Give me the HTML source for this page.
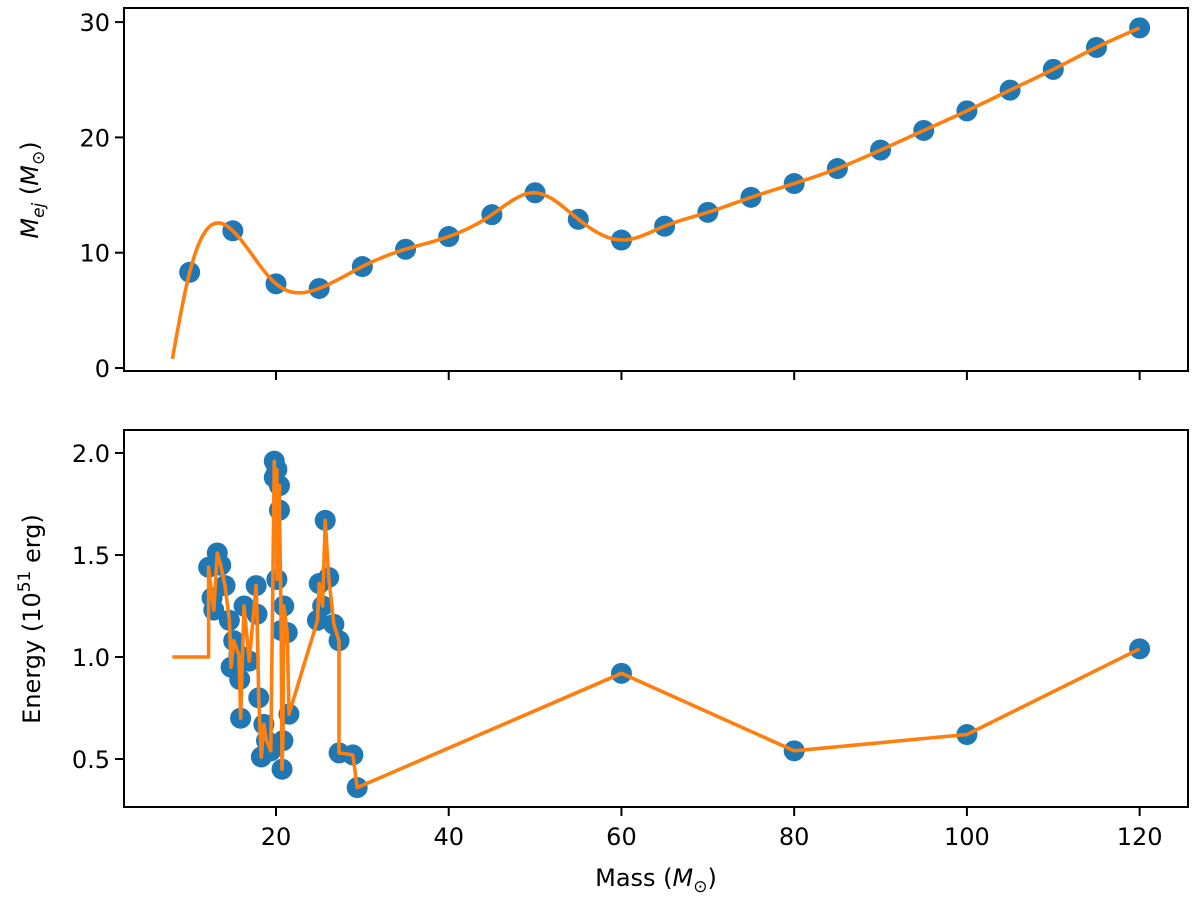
<!DOCTYPE html>
<html><head><meta charset="utf-8"><style>
body{margin:0;background:#fff;}
svg text{font-family:"DejaVu Sans","Liberation Sans",sans-serif;font-size:24px;fill:#000;}
</style></head><body>
<svg id="c" width="1200" height="906"></svg>
<script>
const topMass=[8,10,15,20,25,30,35,40,45,50,55,60,65,70,75,80,85,90,95,100,105,110,115,120];
const topEjecta=[0.8,8.3,11.9,7.3,6.9,8.8,10.3,11.4,13.3,15.2,12.9,11.1,12.3,13.5,14.8,16.0,17.3,18.9,20.6,22.3,24.1,25.9,27.8,29.5];
const botMass=[12.2,12.6,12.8,13.2,13.6,14.1,14.6,14.8,15.1,15.7,15.8,15.9,16.3,16.9,17.7,17.8,18.0,18.3,18.6,18.9,19.4,19.8,19.8,20.1,20.1,20.4,20.4,20.6,20.7,20.8,20.9,21.3,21.5,24.8,25.0,25.4,25.7,26.1,26.7,27.3,27.3,28.9,29.4,60,80,100,120];
const botEnergy=[1.44,1.29,1.23,1.51,1.45,1.35,1.18,0.95,1.08,1.01,0.89,0.70,1.25,0.98,1.35,1.21,0.80,0.51,0.67,0.59,0.54,1.96,1.88,1.92,1.38,1.84,1.72,1.13,0.45,0.59,1.25,1.12,0.72,1.18,1.36,1.25,1.67,1.39,1.16,1.08,0.53,0.52,0.36,0.92,0.54,0.62,1.04];
const xTicks=[20,40,60,80,100,120];
const topTicks=[0,10,20,30];
const botTicks=[0.5,1.0,1.5,2.0];
const NS="http://www.w3.org/2000/svg";
const svg=document.getElementById('c');
function el(t,a,p){const e=document.createElementNS(NS,t);for(const k in a)e.setAttribute(k,a[k]);(p||svg).appendChild(e);return e;}
const X0=124,X1=1188,xmin=2.4,xmax=125.6;
const xs=m=>X0+(m-xmin)/(xmax-xmin)*(X1-X0);
const yTop=v=>368-v*11.53;
const yBot=v=>657-(v-1)*204;
function axes(y0,y1,name){
  const r=el('rect',{x:X0,y:y0,width:X1-X0,height:y1-y0,fill:'none',stroke:'#000','stroke-width':2});
  
  
}
const gT=el('g',{});


axes(8,371,'top-axes-frame');
xTicks.forEach(t=>{const l=el('line',{x1:xs(t),x2:xs(t),y1:371,y2:380,stroke:'#000','stroke-width':2});});
topTicks.forEach(t=>{const l=el('line',{x1:X0-9,x2:X0,y1:yTop(t),y2:yTop(t),stroke:'#000','stroke-width':2});
 const tx=el('text',{x:X0-14,y:yTop(t)+9,'text-anchor':'end'});tx.textContent=t;});
for(let i=1;i<topMass.length;i++){const c=el('circle',{cx:xs(topMass[i]),cy:yTop(topEjecta[i]),r:10.5,fill:'#1f77b4'},gT);}
function spline(xv,yv){const n=xv.length,h=[],a=[],l=[1],mu=[0],z=[0],c=new Array(n).fill(0),b=[],d=[];
 for(let i=0;i<n-1;i++)h[i]=xv[i+1]-xv[i];
 for(let i=1;i<n-1;i++)a[i]=3/h[i]*(yv[i+1]-yv[i])-3/h[i-1]*(yv[i]-yv[i-1]);
 for(let i=1;i<n-1;i++){l[i]=2*(xv[i+1]-xv[i-1])-h[i-1]*mu[i-1];mu[i]=h[i]/l[i];z[i]=(a[i]-h[i-1]*z[i-1])/l[i];}
 for(let j=n-2;j>=0;j--){c[j]=(j<n-1?z[j]:0)-mu[j]*c[j+1];b[j]=(yv[j+1]-yv[j])/h[j]-h[j]*(c[j+1]+2*c[j])/3;d[j]=(c[j+1]-c[j])/(3*h[j]);}
 return x=>{let i=0;while(i<n-2&&x>xv[i+1])i++;const t=x-xv[i];return yv[i]+b[i]*t+c[i]*t*t+d[i]*t*t*t;};}
const f=spline(topMass,topEjecta);
let pd='';for(let m=8;m<=120.001;m+=0.5){pd+=(pd?'L':'M')+xs(m).toFixed(1)+','+yTop(f(m)).toFixed(1);}
const pl=el('path',{d:pd,fill:'none',stroke:'#ff7f0e','stroke-width':3.6},gT);

const yl1=el('text',{x:0,y:0,transform:'translate(38,190) rotate(-90)','text-anchor':'middle'});
yl1.innerHTML='<tspan font-style="italic">M</tspan><tspan font-style="italic" font-size="17" dy="6">ej</tspan><tspan dy="-6"> (</tspan><tspan font-style="italic">M</tspan><tspan font-size="17" dy="6">⊙</tspan><tspan dy="-6">)</tspan>';

const gB=el('g',{});


axes(430,807,'bottom-axes-frame');
xTicks.forEach(t=>{const l=el('line',{x1:xs(t),x2:xs(t),y1:807,y2:816,stroke:'#000','stroke-width':2});
 const tx=el('text',{x:xs(t),y:845,'text-anchor':'middle'});tx.textContent=t;});
botTicks.forEach(t=>{const l=el('line',{x1:X0-9,x2:X0,y1:yBot(t),y2:yBot(t),stroke:'#000','stroke-width':2});
 const tx=el('text',{x:X0-14,y:yBot(t)+9,'text-anchor':'end'});tx.textContent=t.toFixed(1);});
botMass.forEach((m,i)=>{const c=el('circle',{cx:xs(m),cy:yBot(botEnergy[i]),r:10.5,fill:'#1f77b4'},gB);});
let pb='M'+xs(8)+','+yBot(1.0)+'L'+xs(botMass[0])+','+yBot(1.0);
botMass.forEach((m,i)=>{pb+='L'+xs(m).toFixed(1)+','+yBot(botEnergy[i]).toFixed(1);});
const pl2=el('path',{d:pb,fill:'none',stroke:'#ff7f0e','stroke-width':3.6,'stroke-linejoin':'round'},gB);

const yl2=el('text',{x:0,y:0,transform:'translate(40,619) rotate(-90)','text-anchor':'middle'});
yl2.innerHTML='Energy (10<tspan font-size="17" dy="-10">51</tspan><tspan dy="10"> erg)</tspan>';

const xl=el('text',{x:656,y:886,'text-anchor':'middle'});
xl.innerHTML='Mass (<tspan font-style="italic">M</tspan><tspan font-size="17" dy="6">⊙</tspan><tspan dy="-6">)</tspan>';

</script>
</body></html>
